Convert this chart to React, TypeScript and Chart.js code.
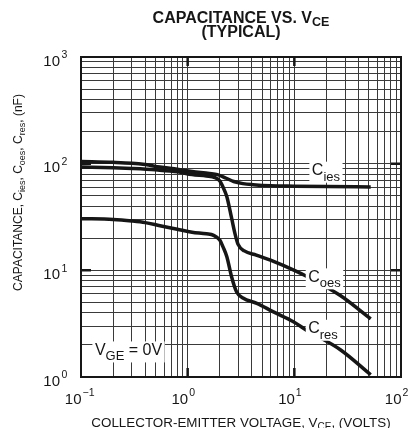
import React, { useEffect, useRef } from 'react';
import { Chart, registerables } from 'chart.js';

Chart.register(...registerables);

const FONT = '"Liberation Sans", Arial, Helvetica, sans-serif';
const INK = '#161616';

// ---- data ----
const vceIes = [0.1, 0.2, 0.3, 0.4, 0.55, 0.8, 1.1, 1.6, 1.9, 2.3, 2.7, 3.3, 4.1, 6, 10, 20, 52];
const cIes = [105, 103, 101, 98, 93, 88.5, 84.5, 81, 79, 73, 68, 65, 63.5, 62, 61.5, 61, 60.5];

const vceOes = [0.1, 0.2, 0.3, 0.5, 0.8, 1.1, 1.5, 1.8, 2.0, 2.15, 2.33, 2.58, 2.78, 2.97, 3.4, 4.4, 6.3, 10, 13, 27, 52];
const cOes = [93, 91.5, 90, 87.5, 84, 79, 76.5, 74, 69, 60, 49, 31, 22, 17.5, 15.2, 13.9, 12.2, 10, 8.8, 5.8, 3.5];

const vceRes = [0.1, 0.2, 0.3, 0.4, 0.55, 0.8, 1.1, 1.5, 1.75, 2.0, 2.15, 2.33, 2.58, 2.87, 3.3, 4.45, 6.3, 9.8, 13, 27, 52];
const cRes = [30.5, 30, 29, 28, 26.2, 24.3, 22.8, 22, 21.3, 19.2, 16.5, 13.4, 8.7, 6.3, 5.5, 4.9, 4.1, 3.3, 2.75, 1.8, 1.05];

const xDecadeExps = [-1, 0, 1, 2];
const yDecadeExps = [0, 1, 2, 3];
const minorMultipliers = [1, 2, 3, 4, 5, 6, 7, 8, 9];

const titleLine1 = 'CAPACITANCE VS. V';
const titleLine1Sub = 'CE';
const titleLine2 = '(TYPICAL)';
const xTitleParts = ['COLLECTOR-EMITTER VOLTAGE, V', 'CE', ', (VOLTS)'];
const yTitleParts = ['CAPACITANCE, C', 'ies', ', C', 'oes', ', C', 'res', ', (nF)'];

// curve labels: main text, subscript, anchor (data coords: left edge, baseline)
const curveLabelMain = ['C', 'C', 'C'];
const curveLabelSub = ['ies', 'oes', 'res'];
const curveLabelX = [14.6, 13.5, 13.5];
const curveLabelY = [78, 7.8, 2.57];

const condLabelParts = ['V', 'GE', ' = 0V'];
const condLabelX = 0.135;
const condLabelY = 1.61;

type Seg = { t: string; k?: 'sub' | 'sup' };

function richWidth(ctx: CanvasRenderingContext2D, segs: Seg[], main: number, small: number, weight: string) {
  let w = 0;
  for (const s of segs) {
    ctx.font = `${weight} ${s.k ? small : main}px ${FONT}`;
    w += ctx.measureText(s.t).width;
  }
  return w;
}

function drawRich(
  ctx: CanvasRenderingContext2D,
  segs: Seg[],
  x: number,
  y: number,
  align: 'left' | 'center' | 'right',
  main: number,
  small: number,
  weight: string,
  subDy: number,
  supDy: number
) {
  const w = richWidth(ctx, segs, main, small, weight);
  let cx = align === 'left' ? x : align === 'center' ? x - w / 2 : x - w;
  ctx.textAlign = 'left';
  ctx.textBaseline = 'alphabetic';
  for (const s of segs) {
    ctx.font = `${weight} ${s.k ? small : main}px ${FONT}`;
    const dy = s.k === 'sub' ? subDy : s.k === 'sup' ? -supDy : 0;
    ctx.fillText(s.t, cx, y + dy);
    cx += ctx.measureText(s.t).width;
  }
  return w;
}

function altSegs(parts: string[]): Seg[] {
  return parts.map((t, i) => (i % 2 === 1 ? { t, k: 'sub' as const } : { t }));
}

function logTicks(exps: number[]) {
  const vals: number[] = [];
  for (let i = 0; i < exps.length - 1; i++) {
    for (const m of minorMultipliers) vals.push(m * Math.pow(10, exps[i]));
  }
  vals.push(Math.pow(10, exps[exps.length - 1]));
  return vals.map((v) => ({ value: v, major: Number.isInteger(Math.round(Math.log10(v) * 1e6) / 1e6) }));
}

const decorPlugin = {
  id: 'decor',
  afterDatasetsDraw(chart: any) {
    const ctx: CanvasRenderingContext2D = chart.ctx;
    const { left, right, top, bottom } = chart.chartArea;
    const xs = chart.scales.x;
    const ys = chart.scales.y;
    ctx.save();
    // label boxes drawn over the curves, as in the reference
    const boxes: { segs: Seg[]; x: number; y: number }[] = curveLabelMain.map((m, i) => ({
      segs: [{ t: m }, { t: curveLabelSub[i], k: 'sub' as const }],
      x: xs.getPixelForValue(curveLabelX[i]),
      y: ys.getPixelForValue(curveLabelY[i]),
    }));
    boxes.push({
      segs: altSegs(condLabelParts),
      x: xs.getPixelForValue(condLabelX),
      y: ys.getPixelForValue(condLabelY),
    });
    for (const b of boxes) {
      const w = richWidth(ctx, b.segs, 16, 13, 'normal');
      ctx.fillStyle = '#ffffff';
      ctx.fillRect(b.x - 2.5, b.y - 13.5, w + 5, 21);
      ctx.fillStyle = INK;
      drawRich(ctx, b.segs, b.x, b.y, 'left', 16, 13, 'normal', 5.5, 0);
    }
    ctx.strokeStyle = INK;
    ctx.lineWidth = 2.5;
    // heavy decade ticks inside the frame
    for (const e of xDecadeExps.slice(1, -1)) {
      const px = xs.getPixelForValue(Math.pow(10, e));
      ctx.beginPath();
      ctx.moveTo(px, top);
      ctx.lineTo(px, top + 9);
      ctx.moveTo(px, bottom);
      ctx.lineTo(px, bottom - 9);
      ctx.stroke();
    }
    for (const e of yDecadeExps.slice(1, -1)) {
      const py = ys.getPixelForValue(Math.pow(10, e));
      ctx.beginPath();
      ctx.moveTo(left, py);
      ctx.lineTo(left + 10, py);
      ctx.moveTo(right, py);
      ctx.lineTo(right - 10, py);
      ctx.stroke();
    }
    ctx.lineWidth = 2;
    ctx.strokeRect(left, top, right - left, bottom - top);
    ctx.restore();
  },
  afterDraw(chart: any) {
    const ctx: CanvasRenderingContext2D = chart.ctx;
    const { left, right, top, bottom } = chart.chartArea;
    const xs = chart.scales.x;
    const ys = chart.scales.y;
    const cx = (left + right) / 2;
    ctx.save();
    ctx.fillStyle = INK;
    // tick labels
    for (const e of xDecadeExps) {
      const px = xs.getPixelForValue(Math.pow(10, e));
      const base = bottom + 26.5;
      ctx.font = `normal 15px ${FONT}`;
      ctx.textAlign = 'right';
      ctx.textBaseline = 'alphabetic';
      ctx.fillText('10', px + 0.5, base);
      ctx.font = `normal 10.5px ${FONT}`;
      ctx.textAlign = 'left';
      ctx.fillText(e < 0 ? '\u2212' + Math.abs(e) : String(e), px + 1.5, base - 8);
    }
    for (const e of yDecadeExps) {
      const py = ys.getPixelForValue(Math.pow(10, e));
      const base = py + 8.7;
      const rx = left - 21;
      ctx.font = `normal 15px ${FONT}`;
      ctx.textAlign = 'right';
      ctx.textBaseline = 'alphabetic';
      ctx.fillText('10', rx, base);
      ctx.font = `normal 10.5px ${FONT}`;
      ctx.textAlign = 'left';
      ctx.fillText(String(e), rx + 1.5, base - 7.5);
    }
    // title
    drawRich(ctx, [{ t: titleLine1 }, { t: titleLine1Sub, k: 'sub' }], cx, 22.7, 'center', 16, 12.5, 'bold', 3.5, 0);
    drawRich(ctx, [{ t: titleLine2 }], cx, 36.5, 'center', 16, 12, 'bold', 0, 0);
    // x title
    drawRich(ctx, altSegs(xTitleParts), cx, bottom + 49.5, 'center', 13.4, 10, 'normal', 3.5, 0);
    // y title
    ctx.translate(21.5, (top + bottom) / 2 - 24.5);
    ctx.rotate(-Math.PI / 2);
    drawRich(ctx, altSegs(yTitleParts), 0, 0, 'center', 12, 9, 'normal', 3, 0);
    ctx.restore();
  },
};

export default function App() {
  const ref = useRef<HTMLCanvasElement | null>(null);
  useEffect(() => {
    if (!ref.current) return;
    const mk = (xs: number[], ys: number[], label: string) => ({
      label,
      data: xs.map((x, i) => ({ x, y: ys[i] })),
      borderColor: INK,
      backgroundColor: INK,
      borderWidth: 3.5,
      pointRadius: 0,
      fill: false,
      cubicInterpolationMode: 'monotone' as const,
      borderCapStyle: 'butt' as const,
      borderJoinStyle: 'round' as const,
    });
    const gridOpts = { color: '#3a3a3a', lineWidth: 1, drawTicks: false };
    const chart = new Chart(ref.current, {
      type: 'line',
      data: {
        datasets: [mk(vceIes, cIes, 'Cies'), mk(vceOes, cOes, 'Coes'), mk(vceRes, cRes, 'Cres')],
      },
      plugins: [decorPlugin],
      options: {
        animation: false,
        responsive: false,
        devicePixelRatio: 1,
        events: [],
        layout: { padding: { left: 81, top: 57, right: 13, bottom: 51 } },
        plugins: { legend: { display: false }, tooltip: { enabled: false }, title: { display: false } },
        scales: {
          x: {
            type: 'logarithmic',
            min: Math.pow(10, xDecadeExps[0]),
            max: Math.pow(10, xDecadeExps[xDecadeExps.length - 1]),
            ticks: { display: false },
            grid: gridOpts,
            border: { display: false },
            afterBuildTicks: (s: any) => {
              s.ticks = logTicks(xDecadeExps);
            },
          },
          y: {
            type: 'logarithmic',
            min: Math.pow(10, yDecadeExps[0]),
            max: Math.pow(10, yDecadeExps[yDecadeExps.length - 1]),
            ticks: { display: false },
            grid: gridOpts,
            border: { display: false },
            afterBuildTicks: (s: any) => {
              s.ticks = logTicks(yDecadeExps);
            },
          },
        },
      },
    } as any);
    return () => chart.destroy();
  }, []);
  return (
    <div style={{ position: 'fixed', left: 0, top: 0, width: 414, height: 428, background: '#fff' }}>
      <canvas ref={ref} width={414} height={428} style={{ display: 'block', width: 414, height: 428 }} />
    </div>
  );
}
